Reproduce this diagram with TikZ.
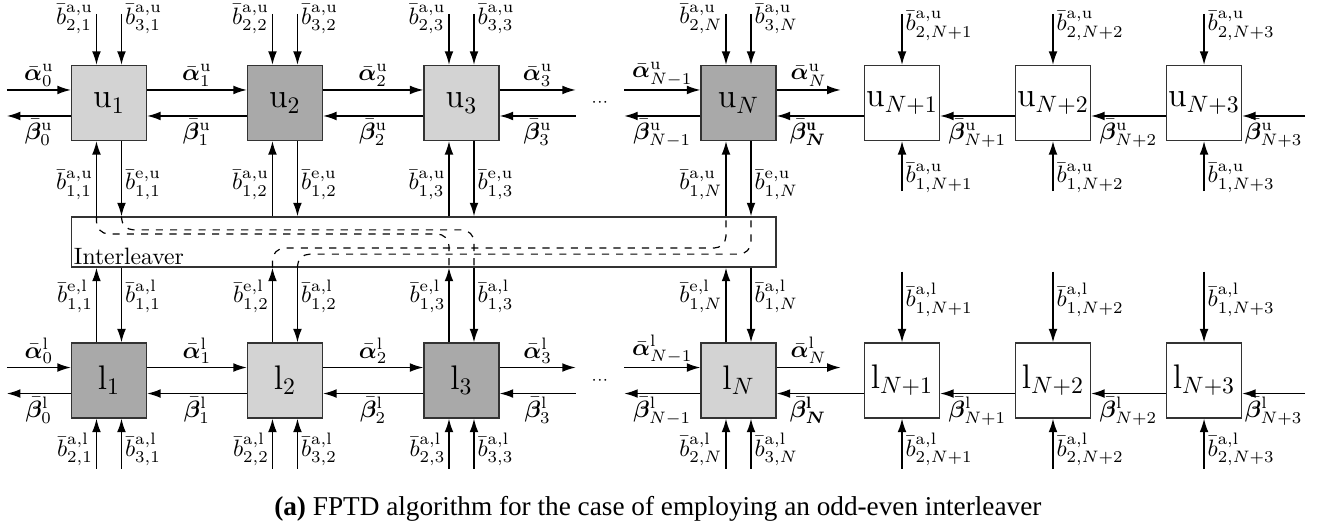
\documentclass[tikz,border=0pt]{standalone}
\usepackage{fontspec}
\usepackage{bm}
\newfontfamily\capfont{Liberation Serif}
\usetikzlibrary{arrows.meta, calc}
\definecolor{lgray}{HTML}{D3D3D3}
\definecolor{dgray}{HTML}{A9A9A9}
\tikzset{
  every picture/.style={line width=0.6pt},
  blk/.style={draw=black!80, fill=#1, minimum size=1.11cm, inner sep=0pt, font=\Large},
  blk/.default=white,
  arr/.style={-{Latex[length=2mm,width=1.3mm]}},
  lbl/.style={inner sep=1.2pt},
  route/.style={dashed, line width=0.5pt, rounded corners=0.18cm},
}

\begin{document}
\begin{tikzpicture}
  \useasboundingbox (0,0) rectangle (19.54,7.745);
  % decoder blocks
  \foreach \n/\x/\c in {1/1.617/lgray, 2/4.228/dgray, 3/6.847/lgray, N/10.957/dgray}
    \node[blk=\c] (u\n) at (\x,6.217) {$\mathrm{u}_\n$};
  \foreach \n/\x/\c in {1/1.617/dgray, 2/4.228/lgray, 3/6.847/dgray, N/10.957/lgray}
    \node[blk=\c] (l\n) at (\x,2.099) {$\mathrm{l}_\n$};
  \foreach \k/\x in {1/13.383, 2/15.623, 3/17.864} {
    \node[blk] (uN\k) at (\x,6.217) {$\mathrm{u}_{N+\k}$};
    \node[blk] (lN\k) at (\x,2.099) {$\mathrm{l}_{N+\k}$};
  }
  \node[draw=black!80, minimum width=10.45cm, minimum height=0.742cm, inner sep=0pt] (intl) at (6.287,4.154) {};
  \node[anchor=south west, inner sep=1pt] (intlabel) at (intl.south west) {Interleaver};
  \node (dotsu) at (8.90,6.22) {$\scriptstyle\cdots$};
  \node (dotsl) at (8.90,2.10) {$\scriptstyle\cdots$};

  % upper ports
  \foreach \n in {1,2,3,N} {
    \draw[arr] ([xshift=-1.855mm]u\n.north) ++(0,0.757) -- ([xshift=-1.855mm]u\n.north)
      node[pos=0.1, anchor=east, lbl] {$\bar b^{\mathrm{a,u}}_{2,\n}$};
    \draw[arr] ([xshift=1.855mm]u\n.north) ++(0,0.757) -- ([xshift=1.855mm]u\n.north)
      node[pos=0.1, anchor=west, lbl] {$\bar b^{\mathrm{a,u}}_{3,\n}$};
    \draw[arr] ([xshift=-1.855mm]u\n.south |- intl.north) -- ([xshift=-1.855mm]u\n.south)
      node[pos=0.42, anchor=east, lbl] {$\bar b^{\mathrm{a,u}}_{1,\n}$};
    \draw[arr] ([xshift=1.855mm]u\n.south) -- ([xshift=1.855mm]u\n.south |- intl.north)
      node[pos=0.58, anchor=west, lbl] {$\bar b^{\mathrm{e,u}}_{1,\n}$};
  }
  \foreach \k in {1,2,3} {
    \draw[arr] (uN\k.north) ++(0,0.757) -- (uN\k.north)
      node[pos=0.23, anchor=west, lbl] {$\bar b^{\mathrm{a,u}}_{2,N+\k}$};
    \draw[arr] (uN\k.south) ++(0,-0.742) -- (uN\k.south)
      node[pos=0.26, anchor=west, lbl] {$\bar b^{\mathrm{a,u}}_{1,N+\k}$};
  }

  % lower ports
  \foreach \n in {1,2,3,N} {
    \draw[arr] ([xshift=-1.855mm]l\n.north) -- ([xshift=-1.855mm]l\n.north |- intl.south)
      node[pos=0.62, anchor=east, lbl] {$\bar b^{\mathrm{e,l}}_{1,\n}$};
    \draw[arr] ([xshift=1.855mm]l\n.north |- intl.south) -- ([xshift=1.855mm]l\n.north)
      node[pos=0.38, anchor=west, lbl] {$\bar b^{\mathrm{a,l}}_{1,\n}$};
    \draw[arr] ([xshift=-1.855mm]l\n.south) ++(0,-0.742) -- ([xshift=-1.855mm]l\n.south)
      node[pos=0.38, anchor=east, lbl] {$\bar b^{\mathrm{a,l}}_{2,\n}$};
    \draw[arr] ([xshift=1.855mm]l\n.south) ++(0,-0.742) -- ([xshift=1.855mm]l\n.south)
      node[pos=0.38, anchor=west, lbl] {$\bar b^{\mathrm{a,l}}_{3,\n}$};
  }
  \foreach \k in {1,2,3} {
    \draw[arr] (lN\k.north) ++(0,1.05) -- (lN\k.north)
      node[pos=0.4, anchor=west, lbl] {$\bar b^{\mathrm{a,l}}_{1,N+\k}$};
    \draw[arr] (lN\k.south) ++(0,-0.742) -- (lN\k.south)
      node[pos=0.38, anchor=west, lbl] {$\bar b^{\mathrm{a,l}}_{2,N+\k}$};
  }

  % forward and backward messages
  \foreach \r in {u,l} {
    \draw[arr] ([yshift=1.93mm]\r1.west) ++(-0.95,0) -- ([yshift=1.93mm]\r1.west)
      node[midway, above, lbl] {$\bar{\bm\alpha}^{\mathrm \r}_0$};
    \draw[arr] ([yshift=-1.93mm]\r1.west) -- ++(-0.95,0)
      node[midway, below, lbl] {$\bar{\bm\beta}^{\mathrm \r}_0$};
    \foreach \a/\b in {1/2, 2/3} {
      \draw[arr] ([yshift=1.93mm]\r\a.east) -- ([yshift=1.93mm]\r\b.west)
        node[midway, above, lbl] {$\bar{\bm\alpha}^{\mathrm \r}_\a$};
      \draw[arr] ([yshift=-1.93mm]\r\b.west) -- ([yshift=-1.93mm]\r\a.east)
        node[midway, below, lbl] {$\bar{\bm\beta}^{\mathrm \r}_\a$};
    }
    \draw[arr] ([yshift=1.93mm]\r3.east) -- ++(1.13,0)
      node[midway, above, lbl] {$\bar{\bm\alpha}^{\mathrm \r}_3$};
    \draw[arr] ([yshift=-1.93mm]\r3.east) ++(1.13,0) -- ([yshift=-1.93mm]\r3.east)
      node[midway, below, lbl] {$\bar{\bm\beta}^{\mathrm \r}_3$};
    \draw[arr] ([yshift=1.93mm]\r N.west) ++(-1.13,0) -- ([yshift=1.93mm]\r N.west)
      node[midway, above, lbl] {$\bar{\bm\alpha}^{\mathrm \r}_{N-1}$};
    \draw[arr] ([yshift=-1.93mm]\r N.west) -- ++(-1.13,0)
      node[midway, below, lbl] {$\bar{\bm\beta}^{\mathrm \r}_{N-1}$};
    \draw[arr] ([yshift=1.93mm]\r N.east) -- ++(0.95,0)
      node[midway, above, lbl] {$\bar{\bm\alpha}^{\mathrm \r}_N$};
    \draw[arr] ([yshift=-1.93mm]\r N1.west) -- ([yshift=-1.93mm]\r N.east)
      node[pos=0.64, below, lbl] {$\bm{\bar\beta^{\mathrm \r}_N}$};
    \draw[arr] ([yshift=-1.93mm]\r N2.west) -- ([yshift=-1.93mm]\r N1.east)
      node[midway, below, lbl] {$\bar{\bm\beta}^{\mathrm \r}_{N+1}$};
    \draw[arr] ([yshift=-1.93mm]\r N3.west) -- ([yshift=-1.93mm]\r N2.east)
      node[midway, below, lbl] {$\bar{\bm\beta}^{\mathrm \r}_{N+2}$};
    \draw[arr] ([yshift=-1.93mm]\r N3.east) ++(0.935,0) -- ([yshift=-1.93mm]\r N3.east)
      node[midway, below, lbl] {$\bar{\bm\beta}^{\mathrm \r}_{N+3}$};
  }

  % interleaver routes
  \draw[route] ([xshift=-1.855mm]u1.south |- intl.north) |- ([xshift=-1.855mm, yshift=1.2mm]l3.north |- intl.center)
    -- ([xshift=-1.855mm]l3.north |- intl.south);
  \draw[route] ([xshift=1.855mm]u1.south |- intl.north) |- ([xshift=1.855mm, yshift=1.8mm]l3.north |- intl.center)
    -- ([xshift=1.855mm]l3.north |- intl.south);
  \draw[route] ([xshift=-1.855mm]l2.north |- intl.south) |- ([xshift=-1.855mm, yshift=-0.9mm]uN.south |- intl.center)
    -- ([xshift=-1.855mm]uN.south |- intl.north);
  \draw[route] ([xshift=1.855mm]l2.north |- intl.south) |- ([xshift=1.855mm, yshift=-1.8mm]uN.south |- intl.center)
    -- ([xshift=1.855mm]uN.south |- intl.north);

  \node (cap) at (9.76,0.2) {\capfont\fontsize{11.5}{13}\selectfont\textbf{(a)} FPTD algorithm for the case of employing an odd-even interleaver};
\end{tikzpicture}
\end{document}
